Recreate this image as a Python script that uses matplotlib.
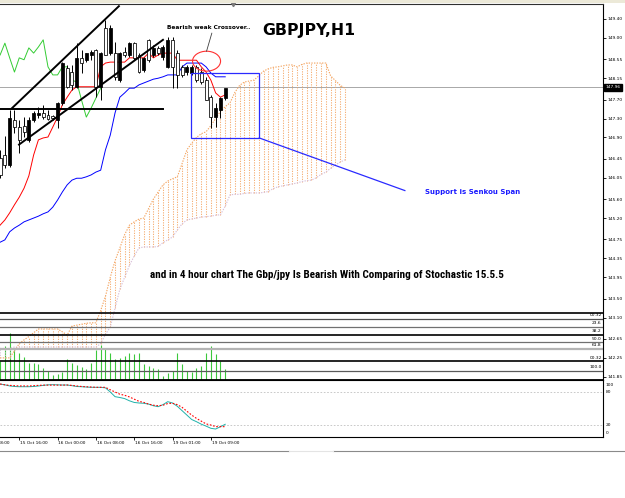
import numpy as np
import matplotlib
matplotlib.use("Agg")
import matplotlib.pyplot as plt
import matplotlib.transforms as mtransforms
import matplotlib.font_manager as fm
from matplotlib.patches import Ellipse, Rectangle
from matplotlib.lines import Line2D

# ---------------- data (GBPJPY H1) ----------------
opens = [146.47, 146.53, 146.32, 147.27, 147.12, 147.14, 146.85, 147.27, 147.37, 147.42,
         147.37, 147.35, 147.27, 147.63, 148.37, 148.28, 147.97, 148.58, 148.54, 148.64,
         148.75, 147.97, 149.21, 148.68, 148.68, 148.11, 148.70, 148.64, 148.89, 148.64,
         148.32, 148.96, 148.64, 148.79, 148.60, 148.39, 148.96, 148.68, 148.39, 148.28,
         148.26, 148.39, 148.28, 148.11, 147.75, 147.33, 147.48, 147.73]
highs = [146.64, 146.93, 147.48, 147.48, 147.27, 147.33, 147.33, 147.46, 147.54, 147.58,
         147.48, 147.37, 147.65, 148.49, 148.43, 148.43, 148.89, 148.75, 148.68, 148.75,
         148.77, 148.70, 149.38, 149.27, 148.91, 148.70, 148.81, 148.91, 148.91, 148.68,
         148.60, 148.98, 148.85, 148.83, 148.85, 149.02, 149.02, 148.75, 148.43, 148.43,
         148.43, 148.43, 148.37, 148.18, 147.80, 147.63, 147.75, 147.90]
lows = [146.05, 146.26, 146.28, 147.00, 146.57, 146.91, 146.80, 147.23, 147.31, 147.29,
        147.27, 147.27, 147.10, 147.59, 147.94, 147.90, 147.94, 148.26, 148.49, 148.54,
        147.75, 147.69, 148.64, 148.64, 148.11, 148.07, 148.60, 148.60, 148.54, 148.26,
        148.28, 148.49, 148.60, 148.64, 148.54, 148.37, 147.94, 147.94, 148.18, 148.22,
        148.22, 148.07, 148.03, 147.69, 147.10, 147.12, 147.31, 147.69]
closes = [146.11, 146.32, 147.31, 147.12, 146.85, 147.02, 147.27, 147.42, 147.42, 147.33,
          147.29, 147.31, 147.63, 148.47, 147.97, 148.01, 148.58, 148.47, 148.68, 148.70,
          147.97, 148.68, 148.64, 149.21, 148.18, 148.68, 148.64, 148.89, 148.58, 148.28,
          148.58, 148.54, 148.79, 148.68, 148.81, 148.96, 148.39, 148.22, 148.22, 148.39,
          148.39, 148.11, 148.07, 147.69, 147.33, 147.52, 147.73, 147.94]
tenkan = [145.05, 145.16, 145.31, 145.48, 145.64, 145.83, 146.09, 146.53, 146.85, 146.89,
          146.91, 147.12, 147.33, 147.59, 147.75, 147.90, 147.97, 147.97, 147.97, 147.97,
          147.97, 148.39, 148.47, 148.49, 148.49, 148.49, 148.49, 148.58, 148.58, 148.58,
          148.58, 148.68, 148.58, 148.64, 148.68, 148.68, 148.68, 148.53, 148.53, 148.53,
          148.53, 148.53, 148.39, 148.28, 148.11, 147.84, 147.75, 147.80]
kijun = [144.69, 144.74, 144.91, 144.99, 145.05, 145.12, 145.16, 145.20, 145.24, 145.29,
         145.33, 145.43, 145.58, 145.75, 145.90, 146.00, 146.04, 146.04, 146.07, 146.11,
         146.17, 146.21, 146.64, 146.95, 147.42, 147.75, 147.84, 147.94, 147.94, 148.01,
         148.05, 148.09, 148.13, 148.15, 148.18, 148.22, 148.22, 148.22, 148.39, 148.47,
         148.47, 148.47, 148.47, 148.39, 148.26, 148.18, 148.18, 148.18]
senkou_a = [142.25, 142.25, 142.25, 142.40, 142.55, 142.63, 142.70, 142.78, 142.86, 142.86,
            142.86, 142.86, 142.86, 142.80, 142.73, 142.92, 142.94, 142.96, 142.98, 142.99,
            142.99, 143.25, 143.55, 143.95, 144.30, 144.57, 144.85, 145.05, 145.12, 145.18,
            145.20, 145.40, 145.60, 145.75, 145.90, 145.98, 146.03, 146.07, 146.35, 146.64,
            146.78, 146.90, 146.98, 147.02, 147.15, 147.30, 147.45, 147.55, 147.63, 147.85,
            148.00, 148.07, 148.09, 148.11, 148.20, 148.30, 148.35, 148.38, 148.39, 148.41,
            148.43, 148.43, 148.39, 148.44, 148.47, 148.47, 148.47, 148.47, 148.47, 148.20,
            148.10, 148.00, 147.94]
senkou_b = [142.45, 142.45, 142.45, 142.48, 142.48, 142.48, 142.48, 142.48, 142.48, 142.48,
            142.48, 142.48, 142.48, 142.48, 142.48, 142.48, 142.48, 142.48, 142.48, 142.48,
            142.48, 142.55, 142.75, 142.90, 143.30, 143.70, 143.95, 144.20, 144.40, 144.57,
            144.59, 144.59, 144.59, 144.60, 144.68, 144.74, 144.80, 144.95, 145.08, 145.16,
            145.18, 145.20, 145.22, 145.23, 145.24, 145.26, 145.27, 145.45, 145.69, 145.70,
            145.70, 145.72, 145.73, 145.73, 145.73, 145.74, 145.76, 145.82, 145.86, 145.88,
            145.90, 145.92, 145.94, 145.97, 145.99, 146.00, 146.05, 146.12, 146.17, 146.25,
            146.32, 146.38, 146.43]
chikou_shift = 26
volumes = [19, 34, 47, 31, 27, 23, 17, 17, 16, 12, 9, 5, 6, 8, 21, 17, 15, 13, 11, 17,
           30, 35, 31, 27, 21, 22, 24, 27, 26, 27, 16, 14, 12, 11, 4, 7, 9, 27, 16, 9,
           8, 12, 14, 27, 34, 26, 19, 11]
stoch_k = [94.5, 93, 91, 90, 89.6, 89.6, 89.6, 90, 90.9, 92, 93, 93.3, 93, 92.7, 92.7, 91.5,
           90, 89.6, 89, 88.5, 88.5, 88.5, 87.5, 80, 71.5, 70, 68, 64, 61, 60, 59.5, 58, 55,
           53.3, 57, 62.4, 60, 54, 46, 38, 30, 26, 21.5, 18, 14, 12.7, 16.9, 21.3]
stoch_d = [94.5, 93, 92, 91.5, 91, 91, 90.9, 91.5, 92, 92.5, 92.5, 92.5, 92.5, 92.5, 92.7, 92,
           91, 90, 89.5, 89, 88.5, 88.5, 88.5, 84, 80, 76, 74, 71, 67, 63, 61, 58, 56, 55, 56,
           59, 59.5, 57, 52, 45, 38, 32, 27, 22, 20, 17, 17, 17]
stoch_levels = [80, 20]
stoch_labels = ["100", "80", "20", "0"]
stoch_label_vals = [93, 80, 20, 5]

time_labels = ["15 Oct 08:00", "15 Oct 16:00", "16 Oct 00:00", "16 Oct 08:00",
               "16 Oct 16:00", "19 Oct 01:00", "19 Oct 09:00"]
time_label_bars = [-4, 4, 12, 20, 28, 36, 44]
price_ticks = [149.40, 149.00, 148.55, 148.15, 147.70, 147.30, 146.90, 146.45, 146.05,
               145.60, 145.20, 144.75, 144.35, 143.95, 143.50, 143.10, 142.65, 142.25, 141.85]
bid_price = 147.96
fib_levels = [143.19, 143.08, 142.91, 142.73, 142.58, 142.44, 142.18, 141.97]
fib_labels = ["", "00.32", "23.6", "38.2", "50.0", "61.8", "00.32", "100.0"]

# drawn objects (bar index, price)
channel_upper = ([2.5, 24.8], [147.52, 149.67])
channel_lower = ([3.95, 34.0], [146.75, 148.96])
support_h = ([-0.02, 34.0], [147.50, 147.50])
box_x = [39.85, 54.1]
box_y = [146.89, 148.25]
support_line = ([54.1, 84.5], [146.89, 145.78])
ellipse_center = (43.1, 148.51)
ellipse_size = (5.85, 0.42)
pointer_line = ([44.2, 43.1], [149.10, 148.72])
shift_marker_bar = 48.6

txt_crossover = (34.85, 149.23, "Bearish weak Crossover..")
txt_symbol = (54.7, 149.16, "GBPJPY,H1")
txt_support = (88.7, 145.75, "Support is Senkou Span")
txt_comment = (31.3, 143.99,
               "and in 4 hour chart The Gbp/jpy Is Bearish With Comparing of Stochastic 15.5.5")

# ---------------- layout helpers ----------------
W, H = 625, 498
def prect(x0, y0, x1, y1):
    return [x0 / W, 1 - y1 / H, (x1 - x0) / W, (y1 - y0) / H]

XLIM = (-0.02, 125.76)
YLIM = (141.794, 149.716)

fig = plt.figure(figsize=(W / 100, H / 100), dpi=100)
fig.patch.set_facecolor("white")

# top window strip
fig.patches.append(Rectangle((0, 1 - 3.5 / H), 1, 3.5 / H, transform=fig.transFigure,
                             facecolor="#ece9d8", edgecolor="none"))
# bottom tab line
fig.lines.append(Line2D([0, 289 / W], [1 - 450.5 / H] * 2, transform=fig.transFigure,
                        color="#8a8a8a", lw=0.8))
fig.lines.append(Line2D([333 / W, 1], [1 - 450.5 / H] * 2, transform=fig.transFigure,
                        color="#8a8a8a", lw=0.8))
fig.lines.append(Line2D([289 / W, 333 / W], [1 - 450.5 / H] * 2, transform=fig.transFigure,
                        color="#e4e4e4", lw=0.8))

# volume axes (behind main)
ax_v = fig.add_axes(prect(0, 4, 602.5, 379.5))
ax_v.set_xlim(*XLIM)
ax_v.set_ylim(0, 375.5)
ax_v.axis("off")
xv = np.arange(len(volumes))
ax_v.vlines(xv, 0, volumes, color="#3cc83c", lw=0.8)
ax_v.set_zorder(0)

# main axes
ax = fig.add_axes(prect(0, 4, 602.5, 379.5))
ax.set_zorder(1)
ax.patch.set_visible(False)
ax.set_xlim(*XLIM)
ax.set_ylim(*YLIM)

o = np.array(opens); h = np.array(highs); l = np.array(lows); c = np.array(closes)
x = np.arange(len(o))

# Ichimoku cloud
a = np.array(senkou_a); b = np.array(senkou_b)
xc = np.arange(len(a))
cloud_cols = np.where(a >= b, "#F4A460", "#D8BFD8")
ax.vlines(xc, np.minimum(a, b), np.maximum(a, b), colors=cloud_cols,
          linestyles=(0, (1.2, 1.2)), lw=0.75, alpha=0.85, zorder=1)
ax.plot(xc, a, color="#F4A460", ls=(0, (1.2, 1.2)), lw=0.8, zorder=1.2)
ax.plot(xc, b, color="#D8BFD8", ls=(0, (1.2, 1.2)), lw=0.8, zorder=1.2)

# bid line
ax.axhline(bid_price, color="#a8a8a8", lw=0.7, zorder=0.5)

# fib lines
fib_styles = [("black", 1.2), ("#505050", 0.9), ("#707070", 0.9), ("black", 1.2),
              ("#707070", 0.9), ("#b4b4b4", 1.6), ("black", 1.2), ("#5a5a5a", 0.9)]
for lev, lab, (col, lw) in zip(fib_levels, fib_labels, fib_styles):
    ax.axhline(lev, color=col, lw=lw, zorder=2)
    if lab:
        ax.text(XLIM[1] - 0.15, lev + 0.035, lab, ha="right", va="bottom",
                fontsize=3.2, color="black", zorder=3)

# Ichimoku lines
chik = c[chikou_shift:]
ax.plot(np.arange(len(chik)), chik, color="#33cc33", lw=0.7, zorder=3)
ax.plot(x, kijun, color="#0000ff", lw=0.7, zorder=3)
ax.plot(x, tenkan, color="#ff0000", lw=0.7, zorder=3)

# candles
up = c >= o
ax.vlines(x, l, h, color="black", lw=0.7, zorder=5)
ax.bar(x, np.maximum(np.abs(c - o), 0.012), bottom=np.minimum(o, c), width=0.62,
       color=np.where(up, "black", "white"), edgecolor="black", linewidth=0.55, zorder=6)

# drawn objects
ax.plot(*channel_upper, color="black", lw=1.4, zorder=7)
ax.plot(*channel_lower, color="black", lw=1.4, zorder=7)
ax.plot(*support_h, color="black", lw=1.4, zorder=7)
ax.add_patch(Rectangle((box_x[0], box_y[0]), box_x[1] - box_x[0], box_y[1] - box_y[0],
                       fill=False, edgecolor="#2a2aff", lw=0.9, zorder=7))
ax.plot(*support_line, color="#2a2aff", lw=0.9, zorder=7)
ax.add_patch(Ellipse(ellipse_center, *ellipse_size, fill=False, edgecolor="#ff3030",
                     lw=0.8, zorder=7))
ax.plot(*pointer_line, color="#404040", lw=0.6, zorder=7)
ax.plot([shift_marker_bar], [YLIM[1]], marker="v", color="#7a7a7a", ms=3.2,
        clip_on=False, zorder=8)

# spines / ticks
ax.spines["left"].set_visible(False)
ax.spines["top"].set_color("#303030"); ax.spines["top"].set_linewidth(0.8)
ax.spines["right"].set_linewidth(0.8)
ax.spines["bottom"].set_linewidth(1.3)
ax.set_xticks([])
ax.yaxis.tick_right()
ax.set_yticks(price_ticks)
ax.set_yticklabels(["%.2f" % p for p in price_ticks])
ax.tick_params(axis="y", direction="out", length=2.2, width=0.6, labelsize=3.2, pad=1.2)

# current price label
trans_r = mtransforms.blended_transform_factory(ax.transAxes, ax.transData)
ax.text(1.0 + 3.0 / 602.5, bid_price, "%.2f" % bid_price, transform=trans_r, ha="left",
        va="center", fontsize=3.2, color="white", zorder=9, clip_on=False,
        bbox=dict(boxstyle="square,pad=0.35", facecolor="black", edgecolor="black"))

# texts
def fit(t, target_px):
    fig.canvas.draw()
    renderer = fig.canvas.get_renderer()
    for _ in range(3):
        w = t.get_window_extent(renderer).width
        t.set_fontsize(t.get_fontsize() * target_px / w)

def find_narrow_bold():
    prefs = ["Liberation Sans Narrow", "Roboto Condensed", "Open Sans Condensed",
             "DejaVu Sans Condensed", "Noto Sans Condensed", "Arial Narrow"]
    bold = (600, 700, 800, 900, "bold", "semibold", "demibold", "heavy", "black")
    fl = fm.fontManager.ttflist
    for p in prefs:
        for f in fl:
            if f.name == p and (f.weight in bold or "Bold" in f.fname):
                return f.fname
    for f in fl:
        if str(f.stretch) in ("condensed", "semi-condensed", "extra-condensed") and \
                (f.weight in bold or "Bold" in f.fname):
            return f.fname
    return None

t1 = ax.text(txt_crossover[0], txt_crossover[1], txt_crossover[2], ha="left", va="center",
             fontsize=4, fontweight="bold", color="black", zorder=9)
t2 = ax.text(txt_symbol[0], txt_symbol[1], txt_symbol[2], ha="left", va="center",
             fontsize=11, fontweight="bold", color="black", zorder=9)
t3 = ax.text(txt_support[0], txt_support[1], txt_support[2], ha="left", va="center",
             fontsize=4.5, fontweight="bold", color="#1a1aff", zorder=9)
nf = find_narrow_bold()
if nf:
    fp = fm.FontProperties(fname=nf, size=8)
    t4 = ax.text(txt_comment[0], txt_comment[1], txt_comment[2], ha="left", va="center",
                 fontproperties=fp, color="black", zorder=9)
else:
    t4 = ax.text(txt_comment[0], txt_comment[1], txt_comment[2], ha="left", va="center",
                 fontsize=6, fontweight="bold", color="black", zorder=9)

# stochastic window
ax_s = fig.add_axes(prect(0, 380, 602.5, 437))
ax_s.set_xlim(*XLIM)
ax_s.set_ylim(-1.8, 101.8)
for lv in stoch_levels:
    ax_s.axhline(lv, color="#c0c0c0", ls=(0, (2, 2)), lw=0.6)
xs = np.arange(len(stoch_k))
ax_s.plot(xs, stoch_k, color="#20B2AA", lw=0.7)
ax_s.plot(np.arange(len(stoch_d)), stoch_d, color="#ff0000", ls=(0, (1.5, 1.5)), lw=0.8)
ax_s.spines["left"].set_visible(False)
for s in ("top", "bottom", "right"):
    ax_s.spines[s].set_linewidth(0.8)
ax_s.set_yticks([])
in_range = [bb for bb in time_label_bars if XLIM[0] <= bb <= XLIM[1]]
ax_s.set_xticks(in_range)
ax_s.set_xticklabels([])
ax_s.tick_params(axis="x", direction="out", length=2.5, width=0.6)
trans_s = mtransforms.blended_transform_factory(ax_s.transAxes, ax_s.transData)
for lab, v in zip(stoch_labels, stoch_label_vals):
    ax_s.text(1.0 + 3.0 / 602.5, v, lab, transform=trans_s, ha="left", va="center",
              fontsize=3.2, clip_on=False)
trans_t = mtransforms.blended_transform_factory(ax_s.transData, ax_s.transAxes)
for lab, bb in zip(time_labels, time_label_bars):
    ax_s.text(bb + 0.15, -0.11, lab, transform=trans_t, ha="left", va="center",
              fontsize=3.1, clip_on=False)

fit(t1, 83)
fit(t2, 93)
fit(t3, 93)
fit(t4, 352)

fig.savefig("out.png", dpi=100, facecolor="white")
